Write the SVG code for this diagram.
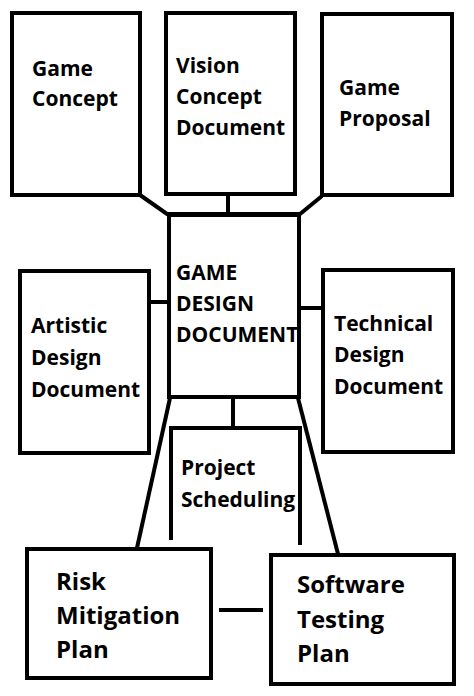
<svg xmlns="http://www.w3.org/2000/svg" width="474" height="696" viewBox="0 0 474 696">
<style>
.b{fill:#fff;stroke:#000;stroke-width:4}
.l{fill:none;stroke:#000;stroke-width:4}
text{font-family:"Open Sans","Liberation Sans",sans-serif;font-weight:bold;font-size:21px;fill:#000}
.big{font-size:24px}
</style>
<rect width="474" height="696" fill="#fff"/>
<g id="connectors">
<polyline class="l" points="140,195 167,214 300,214 322,196"/>
<line class="l" x1="228" y1="193" x2="228" y2="214"/>
<line class="l" x1="149" y1="302" x2="169" y2="302"/>
<line class="l" x1="299" y1="308" x2="323" y2="308"/>
<line class="l" x1="233" y1="397" x2="233" y2="428"/>
<line class="l" x1="170" y1="398" x2="137" y2="548"/>
<line class="l" x1="298" y1="398" x2="338" y2="554"/>
<line class="l" x1="219" y1="610" x2="263" y2="610"/>
</g>
<g id="game-concept"><rect class="b" x="12" y="13" width="128" height="182"/><text x="32" y="76">Game</text><text x="32" y="106">Concept</text></g>
<g id="vision-concept"><rect class="b" x="166" y="13" width="129" height="181"/><text x="176" y="73">Vision</text><text x="176" y="104">Concept</text><text x="176" y="135">Document</text></g>
<g id="game-proposal"><rect class="b" x="322" y="14" width="130" height="181"/><text x="339" y="95">Game</text><text x="339" y="126">Proposal</text></g>
<g id="game-design-document"><rect class="b" x="169" y="215" width="130" height="182"/><text x="176" y="280">GAME</text><text x="176" y="311">DESIGN</text><text x="176" y="342">DOCUMENT</text></g>
<g id="artistic-design"><rect class="b" x="20" y="271" width="129" height="182"/><text x="31" y="333">Artistic</text><text x="31" y="365">Design</text><text x="31" y="397">Document</text></g>
<g id="technical-design"><rect class="b" x="323" y="270" width="130" height="182"/><text x="334" y="331">Technical</text><text x="334" y="362">Design</text><text x="334" y="394">Document</text></g>
<g id="project-scheduling"><polyline class="l" points="171,540 171,428 300,428 300,545"/><text x="181" y="475">Project</text><text x="181" y="507">Scheduling</text></g>
<g id="risk-mitigation"><rect class="b" x="27" y="549" width="184" height="129"/><text class="big" x="56" y="590">Risk</text><text class="big" x="56" y="624">Mitigation</text><text class="big" x="56" y="658">Plan</text></g>
<g id="software-testing"><rect class="b" x="271" y="555" width="183" height="129"/><text class="big" x="297" y="593">Software</text><text class="big" x="297" y="628">Testing</text><text class="big" x="297" y="662">Plan</text></g>
</svg>
